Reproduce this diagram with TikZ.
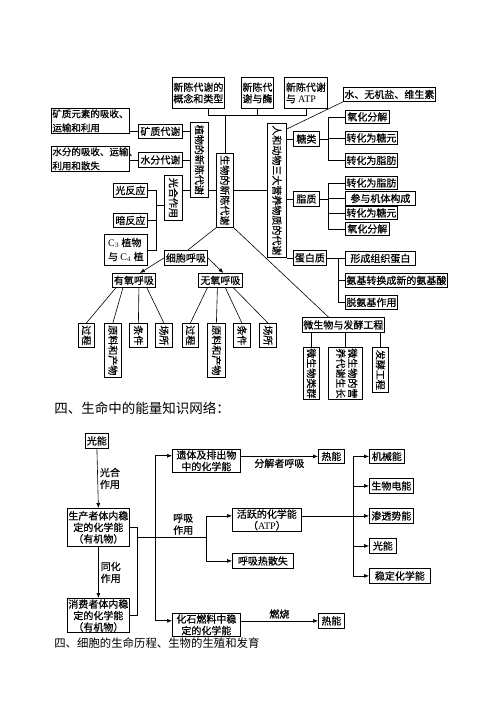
\documentclass[tikz,border=0pt]{standalone}
\usepackage{fontspec}
\usepackage{graphicx}
\setmainfont{Liberation Serif}
\newfontfamily\cjk{Noto Sans CJK SC}
\newfontfamily\cjkb[FakeBold=0.6]{Noto Sans CJK SC}
\usepackage{tikz}
\usetikzlibrary{arrows.meta,arrows}
\newcommand{\vtext}[1]{\rotatebox{-90}{#1}}
\newcommand{\lat}[1]{{\rmfamily #1}}

\begin{document}
\begin{tikzpicture}[x=1pt,y=-1pt,line width=0.6pt,
    box/.style={draw, line width=0.8pt, inner sep=1pt, align=center, anchor=north west,
      font=\cjkb\fontsize{10}{11.5}\selectfont},
    bx/.style 2 args={minimum width=#1pt, minimum height=#2pt},
    lbl/.style={font=\cjkb\fontsize{10}{12}\selectfont, align=center, inner sep=2pt},
    head/.style={font=\cjk\fontsize{#1}{15}\selectfont, anchor=west, inner sep=0pt},
    arr/.style={-{Latex[length=5pt,width=4pt]}}]
    \useasboundingbox (0,0) rectangle (500,707);
    % Metabolism: top row and main boxes
    \node[box, bx={52}{31}, align=left] (concept) at (172,77) {新陈代谢的\\概念和类型};
    \node[box, bx={32}{31}, align=left] (enzyme) at (241,77) {新陈代\\谢与酶};
    \node[box, bx={43}{31}, align=left] (atp) at (284,77) {新陈代谢\\与 \lat{ATP}};
    \node[box, bx={17}{74}] (life) at (216,153) {\vtext{生物的新陈代谢}};
    \node[box, bx={18}{75}] (plant) at (190,122) {\vtext{植物的新陈代谢}};
    \node[box, bx={19}{134}] (animal) at (267,123) {\vtext{人和动物三大营养物质的代谢}};
    % Plant branch
    \node[box, bx={44}{14}] (mineral) at (138,124) {矿质代谢};
    \node[box, bx={44}{15}] (water) at (138,152) {水分代谢};
    \node[box, text width=76pt, align=left, font=\cjkb\fontsize{9.5}{14}\selectfont] (mineraltxt) at (51,108) {矿质元素的吸收\rlap{、}\\运输和利用};
    \node[box, text width=76pt, align=left, font=\cjkb\fontsize{9.5}{14}\selectfont] (watertxt) at (51,146) {水分的吸收、运输\rlap{、}\\利用和散失};
    \node[box, bx={18}{45}] (photo) at (164,175) {\vtext{光合作用}};
    \node[box, bx={34}{14}] (lightr) at (113,183) {光反应};
    \node[box, bx={34}{14}] (darkr) at (113,213) {暗反应};
    \node[box, bx={43}{31}, align=left, font=\cjkb\fontsize{10}{14}\selectfont] (cplant) at (104,234) {\lat{C$_3$} 植物\\与 \lat{C$_4$} 植};
    % Cell respiration
    \node[box, bx={43}{15}] (resp) at (164,250) {细胞呼吸};
    \node[box, bx={43}{14}] (aerobic) at (112,273) {有氧呼吸};
    \node[box, bx={44}{14}] (anaerobic) at (198,273) {无氧呼吸};
    \node[box, bx={16}{24}] (aproc) at (78,323) {\vtext{过程}};
    \node[box, bx={17}{54}] (amat) at (104,323) {\vtext{原料和产物}};
    \node[box, bx={18}{24}] (acond) at (129,323) {\vtext{条件}};
    \node[box, bx={17}{24}] (asite) at (155,323) {\vtext{场所}};
    \node[box, bx={16}{24}] (nproc) at (182,323) {\vtext{过程}};
    \node[box, bx={18}{54}] (nmat) at (207,323) {\vtext{原料和产物}};
    \node[box, bx={17}{24}] (ncond) at (233,323) {\vtext{条件}};
    \node[box, bx={17}{24}] (nsite) at (259,323) {\vtext{场所}};
    % Microbes
    \node[box, bx={80}{15}] (micro) at (302,317) {微生物与发酵工程};
    \node[box, bx={16}{52}] (mgroup) at (303,347) {\vtext{微生物类群}};
    \node[box, bx={34}{52}] (mnutri) at (328,347) {\vtext{\begin{tabular}{@{}l@{}}微生物的营\\养代谢生长\end{tabular}}};
    \node[box, bx={16}{45}] (ferm) at (372,347) {\vtext{发酵工程}};
    % Animal branch
    \node[box, bx={89}{14}] (vitamin) at (343,87) {水、无机盐、维生素};
    \node[box, bx={26}{15}] (sugar) at (293,131) {糖类};
    \node[box, bx={44}{13}] (sugar1) at (345,110) {氧化分解};
    \node[box, bx={52}{13}] (sugar2) at (345,131) {转化为糖元};
    \node[box, bx={52}{14}] (sugar3) at (345,153) {转化为脂肪};
    \node[box, bx={26}{15}] (lipid) at (293,191) {脂质};
    \node[box, bx={52}{13}] (lipid1) at (345,176) {转化为脂肪};
    \node[box, bx={70}{14}] (lipid2) at (345,191) {参与机体构成};
    \node[box, bx={52}{13}] (lipid3) at (345,206) {转化为糖元};
    \node[box, bx={44}{13}] (lipid4) at (345,222) {氧化分解};
    \node[box, bx={33}{15}] (protein) at (293,250) {蛋白质};
    \node[box, bx={70}{14}] (prot1) at (345,251) {形成组织蛋白};
    \node[box, bx={102}{14}] (prot2) at (345,273) {氨基转换成新的氨基酸};
    \node[box, bx={52}{14}] (prot3) at (345,295) {脱氨基作用};
    %
    % Connectors of the top part:
    \coordinate (topbar) at (0,115);
    \draw ([xshift=10pt]concept.south) |- (atp.south |- topbar) -- (atp.south);
    \draw (enzyme.south) -- (enzyme.south |- topbar);
    \draw (life.north |- topbar) -- (life.north);
    \draw (plant.east |- life.west) -- (life.west);
    \draw (life.east) -- (animal.west);
    \draw (mineral.east) -- (mineral.east -| plant.west);
    \draw (water.east) -- (water.east -| plant.west);
    \draw (photo.east |- life.west) -- (plant.west |- life.west);
    \draw (mineraltxt.east |- mineral.west) -- (mineral.west);
    \draw (watertxt.east |- water.west) -- (water.west);
    \coordinate (pbar) at (156,205);
    \draw (lightr.east) -| (cplant.east -| pbar) -- (cplant.east);
    \draw (darkr.east) -- (darkr.east -| pbar);
    \draw (pbar) -- (pbar -| photo.west);
    % Respiration
    \draw (life.south west) -- ([xshift=2pt]resp.north);
    \draw[arr] (resp.west) -- ([xshift=6pt]aerobic.north);
    \draw[arr] (resp.east) -- ([xshift=3pt]anaerobic.north);
    \draw ([xshift=-18pt]aerobic.south) -- (aproc.north);
    \draw ([xshift=-11pt]aerobic.south) -- (amat.north);
    \draw ([xshift=5pt]aerobic.south) -- (acond.north);
    \draw ([xshift=13pt]aerobic.south) -- (asite.north);
    \draw ([xshift=-13pt]anaerobic.south) -- (nproc.north);
    \draw ([xshift=-3pt]anaerobic.south) -- (nmat.north);
    \draw ([xshift=5pt]anaerobic.south) -- (ncond.north);
    \draw ([xshift=13pt]anaerobic.south) -- (nsite.north);
    % Microbes
    \draw (life.south east) -- ([xshift=-15pt]micro.north);
    \draw (mgroup.north) -- (mgroup.north |- micro.south);
    \draw (mnutri.north) -- (mnutri.north |- micro.south);
    \draw (ferm.north) -- (ferm.north |- micro.south);
    % Animal
    \draw ([yshift=-6pt]animal.north east) -- (vitamin.south west);
    \draw (animal.east |- sugar.west) -- (sugar.west);
    \draw (animal.east |- lipid.west) -- (lipid.west);
    \draw (animal.east |- protein.west) -- (protein.west);
    \coordinate (sbar) at (328,0);
    \draw (sugar.east) -- (sugar.east -| sbar);
    \draw (sugar1.west) -| (sugar3.west -| sbar) -- (sugar3.west);
    \draw (sugar2.west -| sbar) -- (sugar2.west);
    \draw (lipid.east) -- (lipid.east -| sbar);
    \draw (lipid1.west) -| (lipid4.west -| sbar) -- (lipid4.west);
    \draw (lipid2.west -| sbar) -- (lipid2.west);
    \draw (lipid3.west -| sbar) -- (lipid3.west);
    \coordinate (pbartwo) at (338,0);
    \draw (protein.east) -- (protein.east -| pbartwo);
    \draw (prot1.west) -| (prot3.west -| pbartwo) -- (prot3.west);
    \draw (prot2.west -| pbartwo) -- (prot2.west);
    %
    % Energy network
    \node[head=13.5] (energyhd) at (54,408) {四、生命中的能量知识网络：};
    \node[box, bx={23}{15}] (sun) at (85,433) {光能};
    \node[box, bx={61}{38}] (producer) at (67,508) {生产者体内稳\\定的化学能\\（有机物）};
    \node[box, bx={61}{34}] (consumer) at (67,598) {消费者体内稳\\定的化学能\\（有机物）};
    \node[box, bx={68}{22}] (remains) at (172,449) {遗体及排出物\\中的化学能};
    \node[box, bx={69}{22}] (active) at (232,508) {活跃的化学能\\（\lat{ATP}）};
    \node[box, bx={61}{15}] (heatloss) at (232,553) {呼吸热散失};
    \node[box, bx={68}{22}] (fossil) at (172,613) {化石燃料中稳\\定的化学能};
    \node[box, bx={26}{14}] (heata) at (318,449) {热能};
    \node[box, bx={26}{15}] (heatb) at (318,613) {热能};
    \node[box, bx={35}{14}] (mech) at (369,449) {机械能};
    \node[box, bx={44}{15}] (elec) at (369,478) {生物电能};
    \node[box, bx={44}{15}] (osmo) at (369,508) {渗透势能};
    \node[box, bx={27}{15}] (lightb) at (369,538) {光能};
    \node[box, bx={61}{15}] (chem) at (369,568) {稳定化学能};
    \node[head=11.4] (cellhd) at (54,643) {四、细胞的生命历程、生物的生殖和发育};
    % Energy flow edges
    \draw[arr] (sun.south) -- node[lbl, right] {光合\\作用} (producer.north);
    \draw[arr] (producer.south) -- node[lbl, right] {同化\\作用} (consumer.north);
    \coordinate (pcbar) at (137,0);
    \draw (producer.east) -| (consumer.east -| pcbar) -- (consumer.east);
    \coordinate (rbar) at (206,537);
    \draw (rbar -| pcbar) -- node[lbl, above, pos=0.67] {呼吸\\作用} (rbar);
    \draw[arr] (rbar) |- ([yshift=4pt]active.west);
    \draw[arr] (rbar) |- (heatloss.west);
    \coordinate (fbar) at (155,0);
    \coordinate (rmin) at ([yshift=5pt]remains.west);
    \coordinate (fsin) at ([yshift=4pt]fossil.west);
    \draw[arr] (fbar |- fsin) |- (rmin);
    \draw[arr] (fbar |- fsin) -- (fsin);
    \draw[arr] (remains.east |- heata.west) -- node[lbl, below] {分解者呼吸} (heata.west);
    \draw[arr] (fossil.east |- heatb.west) -- node[lbl, above] {燃烧} (heatb.west);
    \coordinate (ebar) at (353,0);
    \draw[arr] (active.east |- osmo.west) -- (osmo.west);
    \draw (ebar |- mech.west) -- (ebar |- chem.west);
    \foreach \b in {mech, elec, lightb, chem}
      \draw[arr] (ebar |- \b.west) -- (\b.west);
\end{tikzpicture}
\end{document}
